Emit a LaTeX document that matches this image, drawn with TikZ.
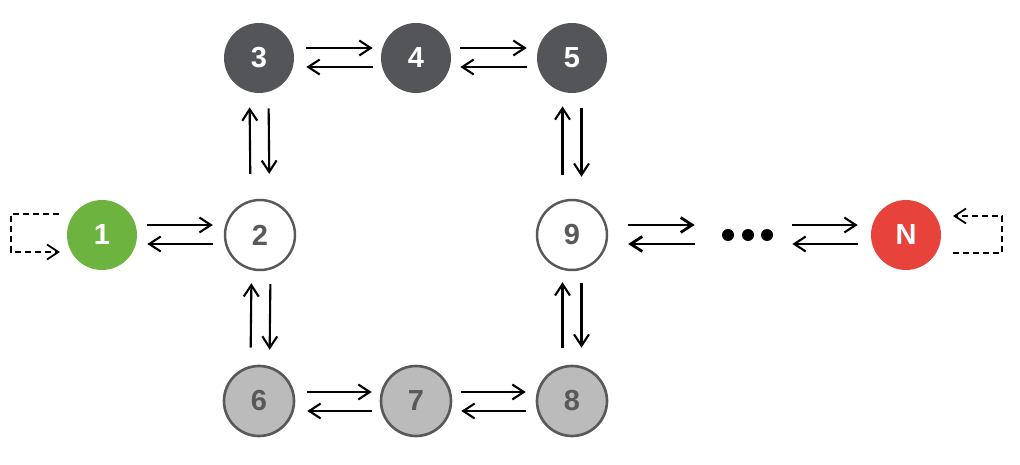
\documentclass[tikz,border=0pt]{standalone}
\usepackage{fontspec}
\setmainfont{Liberation Sans}
\usetikzlibrary{arrows.meta,calc}
\definecolor{cgreen}{HTML}{6CB33F}
\definecolor{cred}{HTML}{E8433A}
\definecolor{cdark}{HTML}{545558}
\definecolor{clight}{HTML}{BCBBBC}
\definecolor{cborder}{HTML}{58595B}
\tikzset{
  st/.style={circle, minimum size=1.4cm, inner sep=0pt, font=\fontsize{16.5}{18}\selectfont\bfseries},
  green/.style={st, fill=cgreen, text=white},
  redn/.style={st, fill=cred, text=white},
  dark/.style={st, fill=cdark, text=white},
  open/.style={st, draw=cborder, line width=1.4pt, fill=white, text=cborder},
  light/.style={st, draw=cborder, line width=1.5pt, fill=clight, text=cborder},
  dot/.style={circle, fill=black, minimum size=12*0.02cm, inner sep=0pt},
  arr/.style={-{Straight Barb[length=6.5pt,width=8.5pt]}, line width=1.2pt, black},
  arrb/.style={arr, line width=1.6pt},
  loop/.style={-{Straight Barb[length=6.5pt,width=8.5pt]}, line width=1pt, dash pattern=on 3.4pt off 2.3pt}
}
\begin{document}
\begin{tikzpicture}[x=0.02cm,y=-0.02cm]
\useasboundingbox (0,0) rectangle (1020,465);
% nodes
\node[green] (n1) at (102,235) {1};
\node[open]  (n2) at (260,235) {2};
\node[dark]  (n3) at (259,58) {3};
\node[dark]  (n4) at (416,58) {4};
\node[dark]  (n5) at (572,58) {5};
\node[open]  (n9) at (572,235) {9};
\node[light] (n6) at (259,401) {6};
\node[light] (n7) at (416,401) {7};
\node[light] (n8) at (572,401) {8};
\node[redn]  (nN) at (906,235) {N};
\node[dot] (d1) at (728,235) {};
\node[dot] (d2) at (748,235) {};
\node[dot] (d3) at (767,235) {};
% horizontal pairs
\draw[arr, shorten <=10*0.02cm, shorten >=11*0.02cm] ($(n1.east)+(0,-10)$) -- ($(n2.west)+(0,-10)$);
\draw[arr, shorten <=11*0.02cm, shorten >=10*0.02cm] ($(n2.west)+(0,9)$) -- ($(n1.east)+(0,9)$);
\draw[arr, shorten <=12*0.02cm, shorten >=8*0.02cm] ($(n3.east)+(0,-10)$) -- ($(n4.west)+(0,-10)$);
\draw[arr, shorten <=8*0.02cm, shorten >=12*0.02cm] ($(n4.west)+(0,9)$) -- ($(n3.east)+(0,9)$);
\draw[arr, shorten <=9*0.02cm, shorten >=10*0.02cm] ($(n4.east)+(0,-10)$) -- ($(n5.west)+(0,-10)$);
\draw[arr, shorten <=10*0.02cm, shorten >=9*0.02cm] ($(n5.west)+(0,9)$) -- ($(n4.east)+(0,9)$);
\draw[arr, shorten <=12*0.02cm, shorten >=8*0.02cm] ($(n6.east)+(0,-9)$) -- ($(n7.west)+(0,-9)$);
\draw[arr, shorten <=8*0.02cm, shorten >=12*0.02cm] ($(n7.west)+(0,10)$) -- ($(n6.east)+(0,10)$);
\draw[arr, shorten <=9*0.02cm, shorten >=10*0.02cm] ($(n7.east)+(0,-9)$) -- ($(n8.west)+(0,-9)$);
\draw[arr, shorten <=10*0.02cm, shorten >=9*0.02cm] ($(n8.west)+(0,10)$) -- ($(n7.east)+(0,10)$);
\draw[arrb, shorten <=20*0.02cm, shorten >=27*0.02cm] ($(n9.east)+(0,-10)$) -- ($(d1.west)+(0,-10)$);
\draw[arrb, shorten <=27*0.02cm, shorten >=20*0.02cm] ($(d1.west)+(0,9)$) -- ($(n9.east)+(0,9)$);
\draw[arr, shorten <=19*0.02cm, shorten >=13*0.02cm] ($(d3.east)+(0,-10)$) -- ($(nN.west)+(0,-10)$);
\draw[arr, shorten <=13*0.02cm, shorten >=19*0.02cm] ($(nN.west)+(0,9)$) -- ($(d3.east)+(0,9)$);
% vertical pairs
\draw[arr, shorten <=25*0.02cm, shorten >=14*0.02cm] ($(n2.north)+(-9.5,0)$) -- ($(n3.south)+(-9.5,0)$);
\draw[arr, shorten <=15*0.02cm, shorten >=25*0.02cm] ($(n3.south)+(9.5,0)$) -- ($(n2.north)+(9.5,0)$);
\draw[arr, shorten <=17*0.02cm, shorten >=12*0.02cm] ($(n6.north)+(-8.5,0)$) -- ($(n2.south)+(-8.5,0)$);
\draw[arr, shorten <=13*0.02cm, shorten >=15*0.02cm] ($(n2.south)+(10.5,0)$) -- ($(n6.north)+(10.5,0)$);
\draw[arr, shorten <=24*0.02cm, shorten >=13*0.02cm] ($(n9.north)+(-9.5,0)$) -- ($(n5.south)+(-9.5,0)$);
\draw[arr, shorten <=15*0.02cm, shorten >=22*0.02cm] ($(n5.south)+(9.5,0)$) -- ($(n9.north)+(9.5,0)$);
\draw[arr, shorten <=17*0.02cm, shorten >=11*0.02cm] ($(n8.north)+(-9.5,0)$) -- ($(n9.south)+(-9.5,0)$);
\draw[arr, shorten <=12*0.02cm, shorten >=17*0.02cm] ($(n9.south)+(9.5,0)$) -- ($(n8.north)+(9.5,0)$);
% dashed self loops
\coordinate (l1s) at ($(n1.center)+(-43,-21)$);
\coordinate (l1e) at ($(n1.center)+(-42,17)$);
\draw[loop] (l1s) -- (11,214) -- (11,252) -- (l1e);
\coordinate (lNs) at ($(nN.center)+(47,18)$);
\coordinate (lNe) at ($(nN.center)+(47,-19)$);
\draw[loop] (lNs) -- (1002,253) -- (1002,216) -- (lNe);
\end{tikzpicture}
\end{document}
